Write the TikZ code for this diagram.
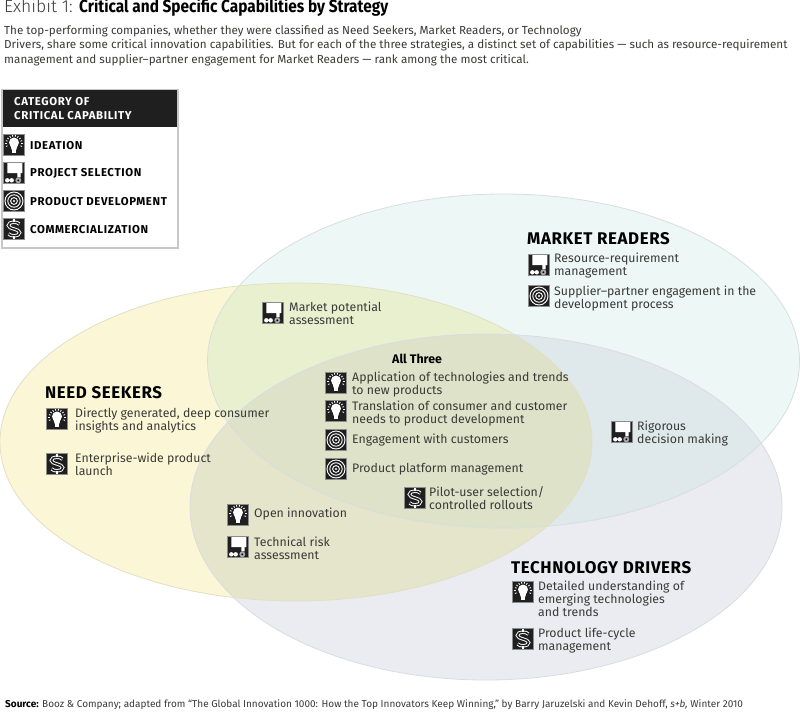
\documentclass[tikz,border=0pt]{standalone}
\usepackage{fontspec}
\setmainfont{Fira Sans}
\newfontfamily\headfont[LetterSpace=3.5]{Fira Sans}
\newfontfamily\legfont[LetterSpace=5.5]{Fira Sans}
\newfontfamily\titlefont[FakeStretch=0.88]{Fira Sans}
\newfontfamily\lightfont{Fira Sans Light}
\usetikzlibrary{calc}
\definecolor{cNS}{HTML}{FBF7D6}
\definecolor{cMR}{HTML}{EDF7F5}
\definecolor{cTD}{HTML}{EBECF2}
\definecolor{cNM}{HTML}{E9F0D0}
\definecolor{cNT}{HTML}{E5E5CB}
\definecolor{cMT}{HTML}{DFE8EA}
\definecolor{cALL}{HTML}{DDE2C8}
\definecolor{ink}{HTML}{3A3A38}
\newcommand{\ellNS}{(296,442) ellipse [x radius=296,y radius=159]}
\newcommand{\ellMR}{(503.5,361) ellipse [x radius=296,y radius=167]}
\newcommand{\ellTD}{(486,507) ellipse [x radius=296,y radius=173]}
\tikzset{
  x=1pt,y=-1pt,
  txt/.style={anchor=north west,inner sep=0pt,align=left,text=ink,yshift=-1pt,font=\fontsize{12.3}{13}\selectfont},
  onetxt/.style={anchor=west,inner sep=0pt,align=left,text=ink,font=\fontsize{12.3}{13}\selectfont},
  head/.style={anchor=west,inner sep=0pt,text=black,font=\headfont\fontsize{16.9}{18}\selectfont\bfseries},
  legtxt/.style={anchor=west,inner sep=0pt,text=black,font=\legfont\fontsize{11.4}{13}\selectfont\bfseries},
  iconbg/.style={fill=black!88,draw=black!45,line width=0.4pt},
  bulb/.pic={
    \path[iconbg] (-10.5,-10.5) rectangle (10.5,10.5);
    \fill[white] (0,-2.5) circle (5);
    \fill[white] (-3.6,0) -- (3.6,0) -- (2.2,5) -- (-2.2,5) -- cycle;
    \fill[white] (-2.1,5.4) rectangle (2.1,8);
    \foreach \a in {-200,-180,-160,-140,-120,-100,-80,-60,-40,-20,0,20}
      \draw[white,line width=0.8pt] ($(0,-1.5)+(\a:6.8)$) -- ($(0,-1.5)+(\a:8.6)$);
  },
  proj/.pic={
    \path[iconbg] (-10.5,-10.5) rectangle (10.5,10.5);
    \fill[white] (-6.7,-10) -- (8.3,-10) -- (8.3,0) -- (6.7,0) -- (6.7,4.3) -- (3.3,4.3) -- (3.3,0) -- (-6.7,0) -- cycle;
    \fill[white] (-6.7,7.3) circle (2.2) (-2.3,7.3) circle (2.2);
    \fill[white!65!black] (4.3,7.3) circle (3);
    \fill[black] (4.3,7.3) circle (1);
  },
  targ/.pic={
    \path[iconbg] (-10.5,-10.5) rectangle (10.5,10.5);
    \foreach \r in {9,6.2,3.4}
      \draw[white,line width=0.9pt] (0,0) circle (\r);
    \fill[white] (0,0) circle (1.1);
  },
  dollar/.pic={
    \path[iconbg] (-10.5,-10.5) rectangle (10.5,10.5);
    \draw[white,line width=3.4pt] (5.4,-4.8) .. controls (4,-7.6) and (-5.6,-7.8) .. (-5.6,-3.6) .. controls (-5.6,0.4) and (5.6,-0.4) .. (5.6,3.6) .. controls (5.6,7.8) and (-4,7.6) .. (-5.4,4.8);
    \draw[black!88,line width=1.5pt] (5.4,-4.8) .. controls (4,-7.6) and (-5.6,-7.8) .. (-5.6,-3.6) .. controls (-5.6,0.4) and (5.6,-0.4) .. (5.6,3.6) .. controls (5.6,7.8) and (-4,7.6) .. (-5.4,4.8);
    \draw[white,line width=1.1pt] (0,-9.6) -- (0,-7.4) (0,7.4) -- (0,9.6);
  },
}
\begin{document}
\begin{tikzpicture}
\useasboundingbox (0,0) rectangle (800,712);
\fill[white] (0,0) rectangle (800,712);

% Venn regions
\fill[cNS] \ellNS;
\fill[cMR] \ellMR;
\fill[cTD] \ellTD;
\begin{scope}\clip \ellNS; \fill[cNM] \ellMR; \end{scope}
\begin{scope}\clip \ellNS; \fill[cNT] \ellTD; \end{scope}
\begin{scope}\clip \ellMR; \fill[cMT] \ellTD; \end{scope}
\begin{scope}\clip \ellNS; \clip \ellMR; \fill[cALL] \ellTD; \end{scope}
\draw[draw=cNS!80!gray,line width=0.8pt] \ellNS;
\draw[draw=cMR!80!gray,line width=0.8pt] \ellMR;
\draw[draw=cTD!85!gray,line width=0.8pt] \ellTD;

% Title and intro
\node[anchor=west,inner sep=0pt,text=ink,font=\fontsize{17.5}{20}\selectfont] (title) at (4,7)
  {\lightfont Exhibit 1: \titlefont\bfseries\color{black}Critical and Specific Capabilities by Strategy};
\node[txt,yshift=1pt,font=\fontsize{11.65}{14.4}\selectfont] (intro) at (4,25)
  {The top-performing companies, whether they were classified as Need Seekers, Market Readers, or Technology\\
   Drivers, share some critical innovation capabilities. But for each of the three strategies, a distinct set of capabilities — such as resource-requirement\\
   management and supplier–partner engagement for Market Readers — rank among the most critical.};

% Legend
\draw[draw=black!22,fill=white,line width=1.5pt] (2,89.5) rectangle (178,248) ;
\fill[black!88] (2.8,90.3) rectangle (177.2,127);
\node[anchor=north west,inner sep=0pt,align=left,text=white,font=\legfont\fontsize{11.4}{14}\selectfont\bfseries] (legendhead) at (14,97)
  {CATEGORY OF\\CRITICAL CAPABILITY};
\pic at (14,145) {bulb};
\pic at (14,173) {proj};
\pic at (14,201) {targ};
\pic at (14,229) {dollar};
\node[legtxt] (l1) at (30,145.7) {IDEATION};
\node[legtxt] (l2) at (30,173.7) {PROJECT SELECTION};
\node[legtxt] (l3) at (30,201.7) {PRODUCT DEVELOPMENT};
\node[legtxt] (l4) at (30,229.7) {COMMERCIALIZATION};

% Market Readers
\node[head] (mr) at (527,238.7) {MARKET READERS};
\pic at (539,265) {proj};
\node[txt] (mr1) at (554,252) {Resource-requirement\\management};
\pic at (539,296) {targ};
\node[txt] (mr2) at (554,285) {Supplier–partner engagement in the\\development process};

% Market potential
\pic at (273,313) {proj};
\node[txt] (mp) at (289,301) {Market potential\\assessment};

% Need Seekers
\node[head] (ns) at (45,392.7) {NEED SEEKERS};
\pic at (57,419) {bulb};
\node[txt] (ns1) at (75,407) {Directly generated, deep consumer\\insights and analytics};
\pic at (57,464) {dollar};
\node[txt] (ns2) at (75,452) {Enterprise-wide product\\launch};

% All Three
\node[anchor=west,inner sep=0pt,text=black,font=\fontsize{12.4}{14}\selectfont\bfseries] (all) at (392,359) {All Three};
\pic at (336,383) {bulb};
\node[txt] (a1) at (352,371) {Application of technologies and trends\\to new products};
\pic at (336,411) {bulb};
\node[txt] (a2) at (352,400) {Translation of consumer and customer\\needs to product development};
\pic at (336,440) {targ};
\node[onetxt] (a3) at (352,440.5) {Engagement with customers};
\pic at (336,469) {targ};
\node[onetxt] (a4) at (352,469.5) {Product platform management};
\pic at (415,498) {dollar};
\node[txt] (a5) at (429,485.5) {Pilot-user selection/\\controlled rollouts};

% Rigorous
\pic at (622,432) {proj};
\node[txt] (rd) at (637,420) {Rigorous\\decision making};

% NS & TD
\pic at (238,515) {bulb};
\node[onetxt] (oi) at (254,514.5) {Open innovation};
\pic at (238,547) {proj};
\node[txt] (tr) at (254,536) {Technical risk\\assessment};

% Technology Drivers
\node[head] (td) at (511,567.7) {TECHNOLOGY DRIVERS};
\pic at (523,592) {bulb};
\node[txt] (td1) at (538,580) {Detailed understanding of\\emerging technologies\\and trends};
\pic at (523,639) {dollar};
\node[txt] (td2) at (538,627) {Product life-cycle\\management};

% Source
\node[anchor=west,inner sep=0pt,text=ink,font=\fontsize{10}{12}\selectfont] (src) at (5,705)
  {\textcolor{black}{\bfseries Source:} Booz \& Company; adapted from “The Global Innovation 1000: How the Top Innovators Keep Winning,” by Barry Jaruzelski and Kevin Dehoff, \textit{s+b,} Winter 2010};
\end{tikzpicture}
\end{document}
